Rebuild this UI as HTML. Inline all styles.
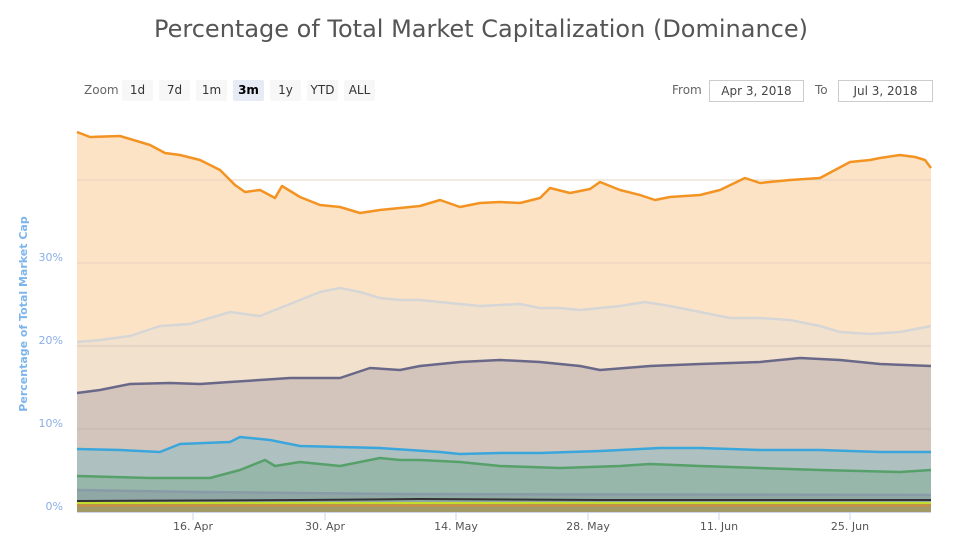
<!DOCTYPE html>
<html><head><meta charset="utf-8"><style>
body{margin:0;background:#fff;font-family:"DejaVu Sans","Liberation Sans",sans-serif;}
#c{position:relative;width:962px;height:550px;overflow:hidden;}
.t{position:absolute;left:0;width:962px;top:15px;text-align:center;font-size:24px;color:#555;}
.z{position:absolute;top:80px;height:21px;line-height:21px;font-size:12px;color:#333;text-align:center;background:#f7f7f7;border-radius:2px;width:31px;}
.lab{position:absolute;font-size:12px;color:#666;}
.box{position:absolute;top:80px;height:20px;line-height:20px;border:1px solid #ccc;font-size:12px;color:#444;text-align:center;}
</style></head><body><div id="c">
<div class="t">Percentage of Total Market Capitalization (Dominance)</div>
<div class="lab" style="left:84px;top:83px;">Zoom</div>
<div class="z" style="left:122px">1d</div>
<div class="z" style="left:159px">7d</div>
<div class="z" style="left:196px">1m</div>
<div class="z" style="left:233px;background:#e6ebf5;font-weight:bold;color:#000">3m</div>
<div class="z" style="left:270px">1y</div>
<div class="z" style="left:307px">YTD</div>
<div class="z" style="left:344px">ALL</div>
<div class="lab" style="left:672px;top:83px;">From</div>
<div class="box" style="left:709px;width:93px;">Apr 3, 2018</div>
<div class="lab" style="left:815px;top:83px;">To</div>
<div class="box" style="left:838px;width:93px;">Jul 3, 2018</div>
<svg width="962" height="550" style="position:absolute;left:0;top:0">
<text transform="translate(27,314) rotate(-90)" text-anchor="middle" font-size="11" fill="#7cb5ec" font-weight="bold" font-family="DejaVu Sans">Percentage of Total Market Cap</text>
<g font-size="11" fill="#8aaee8" text-anchor="end" font-family="DejaVu Sans">
<text x="63" y="261">30%</text><text x="63" y="344">20%</text><text x="63" y="427">10%</text><text x="63" y="510">0%</text></g>
<g id="fills"></g>
<g stroke="#e6d3c0" stroke-width="1"><line x1="77" y1="180" x2="931" y2="180"/><line x1="77" y1="263" x2="931" y2="263"/><line x1="77" y1="346" x2="931" y2="346" stroke="#d9c9bb"/><line x1="77" y1="429" x2="931" y2="429" stroke="#c6b8ae"/></g>
<g id="lines" fill="none" stroke-linejoin="round"></g>
<line x1="77" y1="512.5" x2="931" y2="512.5" stroke="#ccd6eb"/>
<g stroke="#ccd6eb"><line x1="193" y1="512" x2="193" y2="520"/><line x1="325" y1="512" x2="325" y2="520"/><line x1="456" y1="512" x2="456" y2="520"/><line x1="588" y1="512" x2="588" y2="520"/><line x1="719" y1="512" x2="719" y2="520"/><line x1="850" y1="512" x2="850" y2="520"/></g>
<g font-size="11" fill="#555" text-anchor="middle" font-family="DejaVu Sans">
<text x="193" y="530">16. Apr</text><text x="325" y="530">30. Apr</text><text x="456" y="530">14. May</text><text x="588" y="530">28. May</text><text x="719" y="530">11. Jun</text><text x="850" y="530">25. Jun</text></g>
</svg></div>
<script>
var S=[
["77,132 90,137 120,136 150,145 165,153 180,155 200,160 220,170 235,185 245,192 260,190 275,198 282,186 300,197 320,205 340,207 360,213 380,210 400,208 420,206 440,200 460,207 480,203 500,202 520,203 540,198 550,188 570,193 590,189 600,182 620,190 640,195 655,200 670,197 700,195 720,190 745,178 760,183 790,180 820,178 835,170 850,162 870,160 880,158 900,155 915,157 925,160 931,168","#fde3c5","#f39322"],
["77,342 100,340 130,336 160,326 190,324 210,318 230,312 260,316 280,308 300,300 320,292 340,288 360,292 380,298 400,300 420,300 440,302 480,306 520,304 540,308 560,308 580,310 620,306 645,302 670,306 700,312 730,318 760,318 790,320 820,326 840,332 870,334 900,332 931,326","#f2e1cd","#d6d6d6"],
["77,393 100,390 130,384 170,383 200,384 230,382 260,380 290,378 340,378 370,368 400,370 420,366 460,362 500,360 540,362 580,366 600,370 650,366 700,364 760,362 800,358 840,360 880,364 931,366","#d3c5bb","#6a6889"],
["77,449 120,450 160,452 180,444 230,442 240,437 270,440 300,446 380,448 440,452 460,454 500,453 540,453 600,451 660,448 700,448 760,450 820,450 880,452 931,452","#afc0c1","#3aa6dc"],
["77,476 150,478 210,478 240,470 265,460 275,466 300,462 340,466 380,458 400,460 420,460 460,462 500,466 560,468 620,466 650,464 700,466 760,468 820,470 900,472 931,470","#98b7ab","#56a06a"],
["77,490 200,492 400,494 931,495","#8fa8a5","#889ba6"],
["77,501 300,500 420,499 600,500 931,500","#8fa8a5","#333"],
["77,503 931,503","#9fa060","#c3dc2e"],
["77,505.5 931,505.5","#a19a66","#d08a40"]];
var f=document.getElementById('fills'),l=document.getElementById('lines'),ns="http://www.w3.org/2000/svg";
S.forEach(function(s){var p=document.createElementNS(ns,'polygon');p.setAttribute('points',s[0]+' 931,512 77,512');p.setAttribute('fill',s[1]);f.appendChild(p);});
S.forEach(function(s,i){var p=document.createElementNS(ns,'polyline');p.setAttribute('points',s[0]);p.setAttribute('stroke',s[2]);p.setAttribute('stroke-width',i>5?'2':'2.5');l.appendChild(p);});
</script></body></html>
